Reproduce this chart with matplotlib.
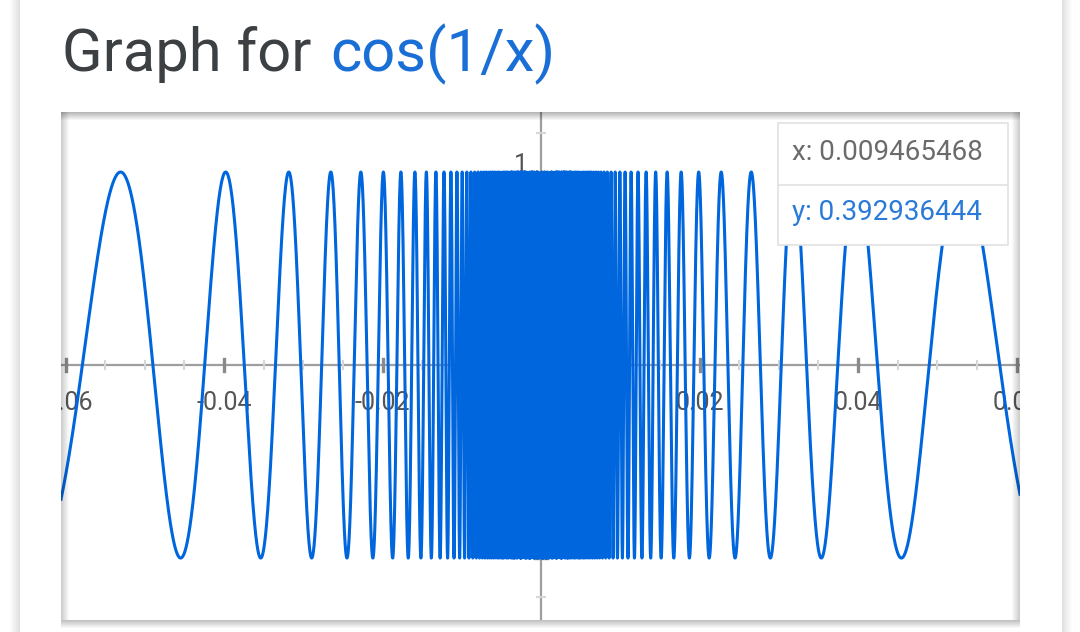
import numpy as np
import matplotlib.pyplot as plt
from matplotlib.patches import Rectangle

# data: the plotted function and the visible window
x_lim = [-0.06057, 0.06044]
y_lim = [-1.321, 1.311]
n_samples = 40001
x_major = [-0.06, -0.04, -0.02, 0.02, 0.04, 0.06]
x_major_labels = ["-0.06", "-0.04", "-0.02", "0.02", "0.04", "0.06"]
x_minor = [i * 0.005 for i in range(-12, 13) if i % 4 != 0]
y_major = [-1, 1]
y_major_labels = ["-1", "1"]
y_minor = [-1.2, -0.8, -0.6, -0.4, -0.2, 0.2, 0.4, 0.6, 0.8, 1.2]
tip_x = "x: 0.009465468"
tip_y = "y: 0.392936444"

x = np.linspace(x_lim[0], x_lim[1], n_samples)
x = x[x != 0]
y = np.cos(1 / x)

plt.rcParams['font.family'] = ['Roboto', 'DejaVu Sans']
blue = '#0066dd'
title_blue = '#1a6fd6'

fig = plt.figure(figsize=(10.8, 6.32), dpi=100)
fig.patch.set_facecolor('white')

# card shadows
for i in range(10):
    a = 0.012 * (10 - i)
    fig.patches.append(Rectangle(((19 - i) / 1080, 0), 1 / 1080, 1, transform=fig.transFigure,
                                 facecolor='black', alpha=a, edgecolor='none'))
    fig.patches.append(Rectangle(((1062 + i) / 1080, 0), 1 / 1080, 1, transform=fig.transFigure,
                                 facecolor='black', alpha=a, edgecolor='none'))

fig.text(62 / 1080, (632 - 71) / 632, "Graph for ", fontsize=43, color='#3c4043',
         va='baseline', ha='left')
fig.text(330 / 1080, (632 - 71) / 632, "cos(1/x)", fontsize=43, color=title_blue,
         va='baseline', ha='left')

ax = fig.add_axes([61 / 1080, 12 / 632, 959 / 1080, 508 / 632])
ax.set_xlim(x_lim)
ax.set_ylim(y_lim)
ax.axis('off')

ppx = 959 / (x_lim[1] - x_lim[0])   # pixels per x unit
ppy = 508 / (y_lim[1] - y_lim[0])   # pixels per y unit

# axes lines
ax.axhline(0, color='#9e9e9e', lw=1.6, zorder=1)
ax.axvline(0, color='#9e9e9e', lw=1.6, zorder=1)

for v in x_minor:
    ax.plot([v, v], [-4 / ppy, 4 / ppy], color='#d6d6d6', lw=1.5, zorder=1)
for v in x_major:
    ax.plot([v, v], [-6 / ppy, 6 / ppy], color='#8a8a8a', lw=2.4, zorder=1)
for v in y_minor:
    ax.plot([-4 / ppx, 4 / ppx], [v, v], color='#d6d6d6', lw=1.5, zorder=1)
for v in y_major:
    ax.plot([-6 / ppx, 6 / ppx], [v, v], color='#8a8a8a', lw=2.4, zorder=1)

for v, s in zip(x_major, x_major_labels):
    ax.text(v, -38 / ppy, s, ha='center', va='center', fontsize=18, color='#555555',
            clip_on=True, zorder=1)
for v, s in zip(y_major, y_major_labels):
    ax.text(-13 / ppx, v + 7 / ppy, s, ha='right', va='center', fontsize=18, color='#555555',
            clip_on=True, zorder=1)

ax.plot(x, y, color=blue, lw=2.2, zorder=3)

# plot area edge shading
for i in range(8):
    a = 0.035 * (8 - i)
    ax.add_patch(Rectangle((0, 1 - (i + 1) / 508), 1, 1 / 508, transform=ax.transAxes,
                           facecolor='black', alpha=a, edgecolor='none', zorder=5))
    ax.add_patch(Rectangle((i / 959, 0), 1 / 959, 1, transform=ax.transAxes,
                           facecolor='black', alpha=a * 0.7, edgecolor='none', zorder=5))
    ax.add_patch(Rectangle((1 - (i + 1) / 959, 0), 1 / 959, 1, transform=ax.transAxes,
                           facecolor='black', alpha=a * 0.7, edgecolor='none', zorder=5))
for i in range(8):
    a = 0.03 * (8 - i)
    fig.patches.append(Rectangle((61 / 1080, (12 - i - 1) / 632), 959 / 1080, 1 / 632,
                                 transform=fig.transFigure, facecolor='black', alpha=a,
                                 edgecolor='none'))

# hover tooltip
tx0, tx1 = (778 - 61) / 959, (1008 - 61) / 959
ty0, ty1 = (620 - 245) / 508, (620 - 123) / 508
tdiv = (620 - 185) / 508
ax.add_patch(Rectangle((tx0, ty0), tx1 - tx0, ty1 - ty0, transform=ax.transAxes,
                       facecolor='white', edgecolor='#e2e2e2', lw=1.2, zorder=6))
ax.plot([tx0, tx1], [tdiv, tdiv], transform=ax.transAxes, color='#e2e2e2', lw=1.2, zorder=7)
ax.text((792 - 61) / 959, (620 - 153) / 508, tip_x, transform=ax.transAxes, fontsize=20,
        color='#6b6b6b', ha='left', va='center', zorder=8)
ax.text((792 - 61) / 959, (620 - 213) / 508, tip_y, transform=ax.transAxes, fontsize=20,
        color='#2a7ad8', ha='left', va='center', zorder=8)

fig.savefig('out.png', dpi=100, facecolor='white')
